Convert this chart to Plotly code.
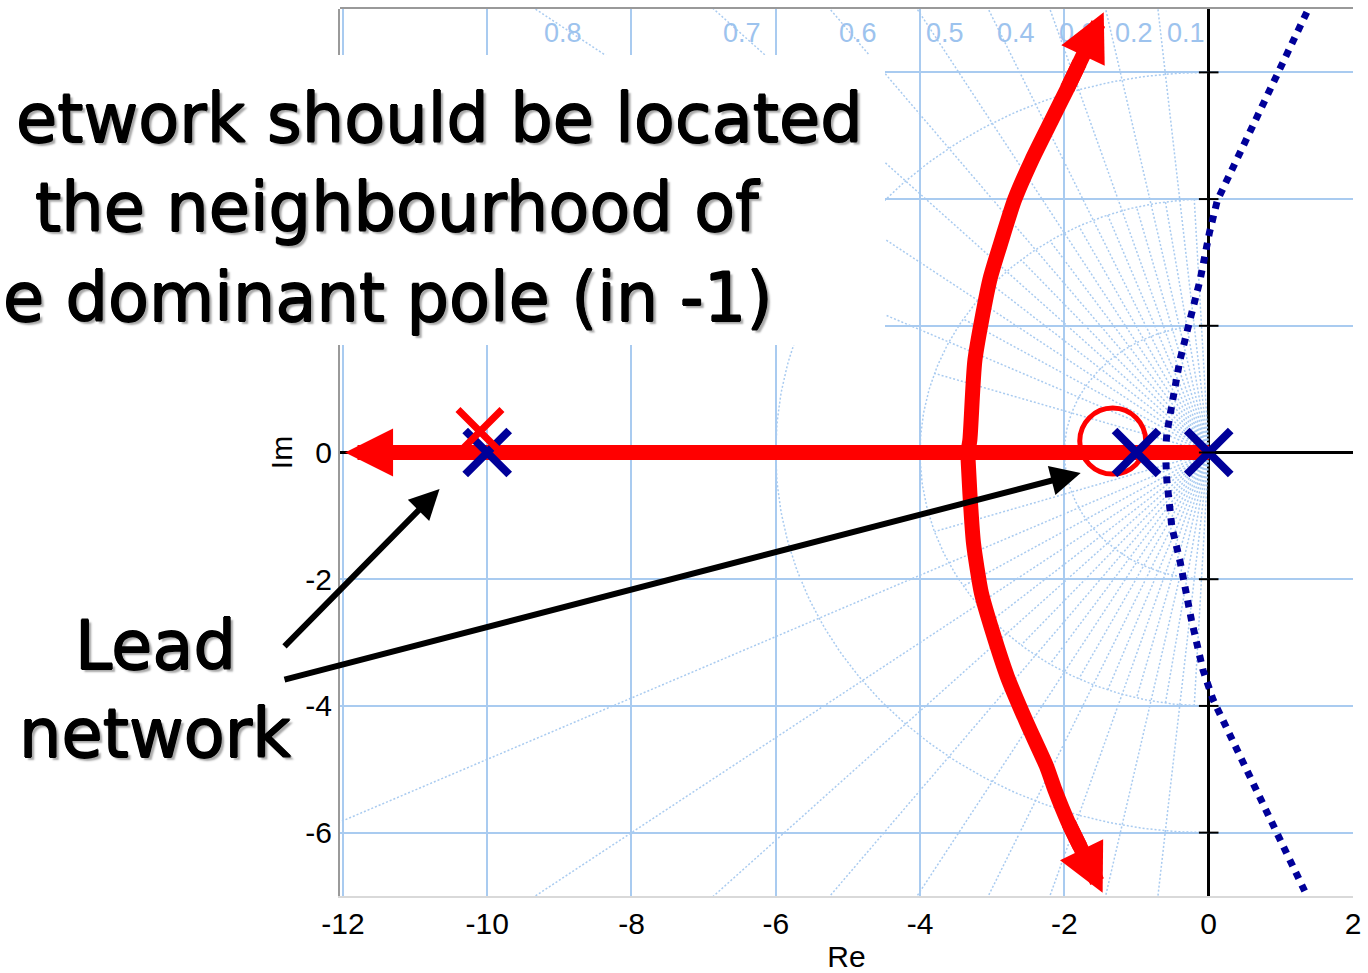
import numpy as np
import plotly.graph_objects as go

# ---------------------------------------------------------------- data ----
x_tick_vals = [-12, -10, -8, -6, -4, -2, 0, 2]
x_tick_labels = ["-12", "-10", "-8", "-6", "-4", "-2", "0", "2"]
y_tick_vals = [-6, -4, -2, 0, 2, 4, 6]
y_tick_labels = ["-6", "-4", "-2", "0", "", "", ""]

# s-plane grid: damping-ratio rays and natural-frequency circles
zeta_main = [0.1, 0.2, 0.3, 0.4, 0.5, 0.6, 0.7, 0.8, 0.9]
zeta_labels = ["0.1", "0.2", "0.3", "0.4", "0.5", "0.6", "0.7", "0.8"]
zeta_inner = [0.05, 0.15, 0.25, 0.35, 0.45, 0.55, 0.65, 0.75, 0.85, 0.95]
wn_circles = [2, 4, 6]

# plant poles (blue crosses); the dominant one sits at -1
plant_pole_re = [0.0, -1.0, -10.0]
plant_pole_im = [0.0, 0.0, 0.0]

# lead network: zero (red circle) and pole (red cross)
lead_zero_re = [-1.33]
lead_zero_im = [0.18]
lead_pole_re = [-10.1]
lead_pole_im = [0.33]

# compensated root locus: real-axis branch (last point is the arrow tip)
real_branch_re = [0.0, -10.6, -11.97]
real_branch_im = [0.0, 0.0, 0.0]

# compensated root locus: complex pair of branches (last point = arrow tip)
upper_branch_re = [-3.34, -3.31, -3.24, -3.035, -2.87, -2.69, -2.45, -2.176, -1.97, -1.455]
upper_branch_im = [0.0, 0.20, 1.46, 2.72, 3.35, 3.99, 4.62, 5.25, 5.72, 6.95]
lower_branch_re = [-3.34, -3.31, -3.26, -3.15, -2.99, -2.79, -2.52, -2.245, -2.13, -1.95, -1.47]
lower_branch_im = [0.0, -0.64, -1.43, -2.22, -2.85, -3.54, -4.27, -4.96, -5.33, -5.83, -6.95]

# uncompensated root locus (dotted)
plain_locus_re = [1.36, 0.67, 0.12, 0.01, -0.12, -0.26, -0.40, -0.50, -0.58, -0.60,
                  -0.58, -0.51, -0.40, -0.24, -0.08, 0.06, 0.66, 1.33]
plain_locus_im = [6.95, 5.33, 3.98, 3.47, 2.72, 2.09, 1.45, 0.82, 0.30, 0.0,
                  -0.44, -1.18, -1.70, -2.64, -3.43, -3.90, -5.30, -6.92]

# "Lead network" pointers: tails and tips
pointer_tail_re = [-12.83, -12.83]
pointer_tail_im = [-3.085, -3.59]
pointer_tip_re = [-10.66, -1.774]
pointer_tip_im = [-0.576, -0.324]

# ---------------------------------------------------------------- style ---
GRID = "#A9CBF0"
GRID_DOT = "#A9CBF0"
NAVY = "#000099"
RED = "#FF0000"
TICK_FONT = "Liberation Sans, Arial, sans-serif"
NOTE_FONT = "DejaVu Sans, sans-serif"
SHADOW = "0.7px 0 0 #000, -0.7px 0 0 #000, 0 0.7px 0 #000, 0 -0.7px 0 #000, 3px 3px 2px #a8a8a8"

X_RANGE = [-12.04, 2.0]
Y_RANGE = [-7.0, 7.0]
W, H = 1368, 973
ML, MR, MT, MB = 340, 15, 9, 77
PW, PH = W - ML - MR, H - MT - MB


def paper_x(px):
    return (px - ML) / PW


def paper_y(py):
    return (H - MB - py) / PH


def shaft(xs, ys, reach=0.35):
    """Points of a locus branch up to (and slightly past) the start of its arrow."""
    xs, ys = list(xs), list(ys)
    ex = xs[-2] + reach * (xs[-1] - xs[-2])
    ey = ys[-2] + reach * (ys[-1] - ys[-2])
    return xs[:-1] + [ex], ys[:-1] + [ey]


fig = go.Figure()

# natural-frequency circles (left half plane)
th = np.linspace(np.pi / 2, 3 * np.pi / 2, 200)
for wn in wn_circles:
    fig.add_trace(go.Scatter(x=wn * np.cos(th), y=wn * np.sin(th), mode="lines",
                             line=dict(color=GRID_DOT, width=1.5, dash="2px,2px"),
                             hoverinfo="skip"))

# damping-ratio rays
for z, reach in [(z, 30.0) for z in zeta_main] + [(z, 4.0) for z in zeta_inner]:
    ang = np.arccos(z)
    for sgn in (1, -1):
        fig.add_trace(go.Scatter(x=[0, -reach * np.cos(ang)], y=[0, sgn * reach * np.sin(ang)],
                                 mode="lines",
                                 line=dict(color=GRID_DOT, width=1.5, dash="2px,2px"),
                                 hoverinfo="skip"))

# uncompensated locus
fig.add_trace(go.Scatter(x=plain_locus_re, y=plain_locus_im, mode="lines",
                         line=dict(color=NAVY, width=7, dash="dot"),
                         hoverinfo="skip"))

# compensated locus: shafts (arrow heads are added as annotations below)
for bx, by in [(real_branch_re, real_branch_im), (upper_branch_re, upper_branch_im),
               (lower_branch_re, lower_branch_im)]:
    sx, sy = shaft(bx, by)
    fig.add_trace(go.Scatter(x=sx, y=sy, mode="lines",
                             line=dict(color=RED, width=15, shape="spline", smoothing=0.6),
                             hoverinfo="skip"))

# lead zero
fig.add_trace(go.Scatter(x=lead_zero_re, y=lead_zero_im, mode="markers",
                         marker=dict(symbol="circle-open", size=66, color=RED,
                                     line=dict(color=RED, width=5)),
                         hoverinfo="skip"))
# plant poles
fig.add_trace(go.Scatter(x=plant_pole_re, y=plant_pole_im, mode="markers",
                         marker=dict(symbol="x-thin", size=44, color=NAVY,
                                     line=dict(color=NAVY, width=8)),
                         hoverinfo="skip"))
# lead pole
fig.add_trace(go.Scatter(x=lead_pole_re, y=lead_pole_im, mode="markers",
                         marker=dict(symbol="x-thin", size=44, color=RED,
                                     line=dict(color=RED, width=7)),
                         hoverinfo="skip"))
# tick marks on the imaginary axis
fig.add_trace(go.Scatter(x=[0] * len(y_tick_vals), y=y_tick_vals, mode="markers",
                         marker=dict(symbol="line-ew", size=14,
                                     line=dict(color="black", width=2)),
                         hoverinfo="skip"))

annotations = []

# damping labels along the top edge
for z, lab in zip(zeta_main, zeta_labels):
    annotations.append(dict(x=-7.0 * z / np.sqrt(1 - z * z), y=6.62, xref="x", yref="y",
                            text=lab, showarrow=False, xshift=28,
                            font=dict(family=TICK_FONT, size=27, color="#9DC3EE")))

# locus arrow heads
for bx, by in [(real_branch_re, real_branch_im), (upper_branch_re, upper_branch_im),
               (lower_branch_re, lower_branch_im)]:
    annotations.append(dict(x=bx[-1], y=by[-1], ax=bx[-2], ay=by[-2],
                            xref="x", yref="y", axref="x", ayref="y", text="",
                            showarrow=True, arrowhead=2, arrowsize=0.64, arrowwidth=15,
                            arrowcolor=RED, standoff=0))

# pointers from the "Lead network" note
for tx, ty, hx, hy in zip(pointer_tail_re, pointer_tail_im, pointer_tip_re, pointer_tip_im):
    annotations.append(dict(x=hx, y=hy, ax=tx, ay=ty, xref="x", yref="y", axref="x",
                            ayref="y", text="", showarrow=True, arrowhead=2, arrowsize=1,
                            arrowwidth=6, arrowcolor="black", standoff=0))

note_font = dict(family=NOTE_FONT, size=67, color="black", shadow=SHADOW)
for txt, right_px, mid_px in [("etwork should be located", 865, 119),
                              ("the neighbourhood of", 762, 208),
                              ("e dominant pole (in -1)", 775, 298)]:
    annotations.append(dict(x=paper_x(right_px), y=paper_y(mid_px), xref="paper", yref="paper",
                            xanchor="right", yanchor="middle", text=txt, showarrow=False,
                            font=note_font))
for txt, mid_px in [("Lead", 646), ("network", 734)]:
    annotations.append(dict(x=paper_x(155), y=paper_y(mid_px), xref="paper", yref="paper",
                            xanchor="center", yanchor="middle", text=txt, showarrow=False,
                            font=note_font))

shapes = [
    # white panel behind the note
    dict(type="rect", xref="paper", yref="paper", x0=paper_x(-5), x1=paper_x(885),
         y0=paper_y(345), y1=paper_y(55), fillcolor="white", line=dict(width=0),
         layer="above"),
    # top frame edge
    dict(type="line", xref="paper", yref="paper", x0=0, x1=1, y0=1.001, y1=1.001,
         line=dict(color="#999999", width=2)),
]

axis_font = dict(family=TICK_FONT, size=30, color="black")
fig.update_layout(
    width=W, height=H,
    margin=dict(l=ML, r=MR, t=MT, b=MB, pad=0, autoexpand=False),
    paper_bgcolor="white", plot_bgcolor="white",
    showlegend=False,
    annotations=annotations,
    shapes=shapes,
    xaxis=dict(range=X_RANGE, tickvals=x_tick_vals, ticktext=x_tick_labels,
               showgrid=True, gridcolor=GRID, gridwidth=2,
               zeroline=True, zerolinecolor="black", zerolinewidth=2.5,
               showline=True, linecolor="#d9d9d9", linewidth=2,
               ticks="", tickfont=axis_font, automargin=False,
               title=dict(text="Re", font=axis_font, standoff=8)),
    yaxis=dict(range=Y_RANGE, tickvals=y_tick_vals, ticktext=y_tick_labels,
               showgrid=True, gridcolor=GRID, gridwidth=2,
               zeroline=True, zerolinecolor="black", zerolinewidth=2.5,
               showline=True, linecolor="#9a9a9a", linewidth=2,
               ticks="", tickfont=axis_font, automargin=False,
               title=dict(text="Im", font=axis_font, standoff=4)),
)

fig.write_html("out.html")
